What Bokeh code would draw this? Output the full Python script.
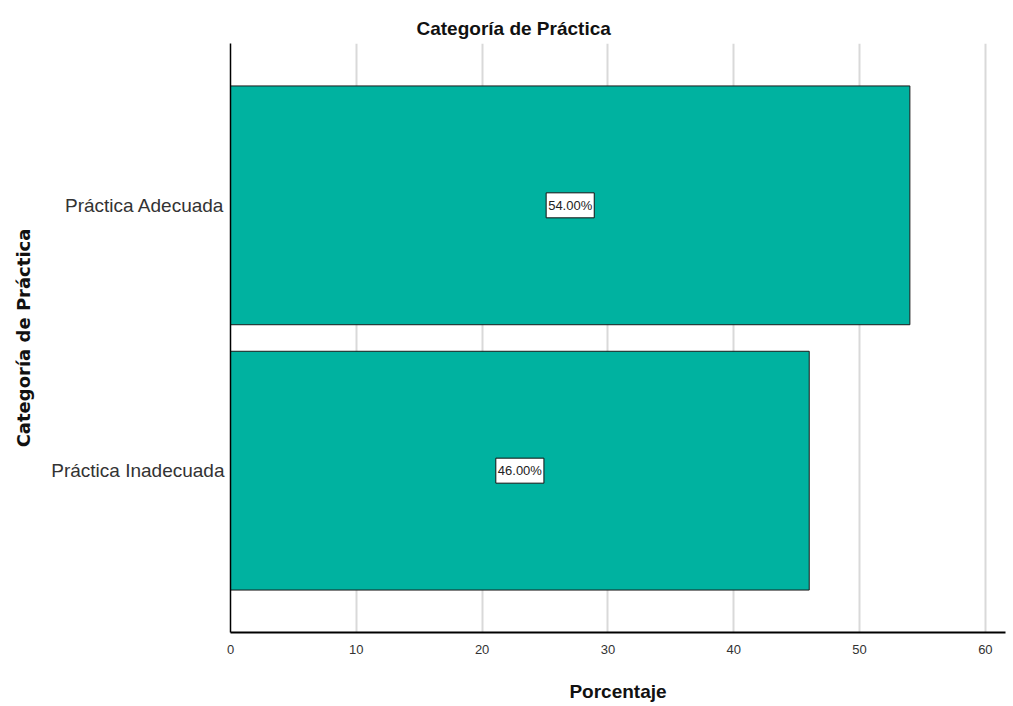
from bokeh.plotting import figure
from bokeh.models import ColumnDataSource, FixedTicker, Range1d, FactorRange
from bokeh.core.properties import value
from bokeh.embed import file_html
from bokeh.resources import INLINE

# ---- data ----
categories = ["Práctica Adecuada", "Práctica Inadecuada"]
percent = [54.0, 46.0]
labels = ["54.00%", "46.00%"]
x_ticks = [0, 10, 20, 30, 40, 50, 60]

title_text = "Categoría de Práctica"
x_title = "Porcentaje"
y_title = "Categoría de Práctica"

SANS = "Liberation Sans"
WIDE = "DejaVu Sans"

src = ColumnDataSource(dict(
    cat=categories,
    pct=percent,
    mid=[v / 2 for v in percent],
    lbl=labels,
))

p = figure(
    width=1008, height=704,
    y_range=FactorRange(factors=list(reversed(categories)), range_padding=0.11),
    x_range=Range1d(0, 61.6),
    output_backend="svg", toolbar_location=None,
    min_border_left=230, min_border_right=3, min_border_top=43, min_border_bottom=72,
)
p.outline_line_color = None
p.background_fill_color = "white"

p.title.text = title_text
p.title.align = "left"
p.title.offset = 186
p.title.text_font = SANS
p.title.text_font_style = "bold"
p.title.text_font_size = "19px"
p.title.text_color = "#111111"

p.hbar(y="cat", left=0, right="pct", height=0.9, source=src,
       fill_color="#00B2A0", line_color="#1a1a1a", line_width=1)

p.text(x="mid", y="cat", text="lbl", source=src,
       text_align="center", text_baseline="middle",
       text_font=value(SANS), text_font_size="13px", text_color="#222222",
       background_fill_color="white", border_line_color="#111111",
       border_line_width=1, padding=dict(left=2, right=2, top=5, bottom=5))

# axes
p.xaxis.ticker = FixedTicker(ticks=x_ticks)
p.xaxis.axis_line_color = "black"
p.xaxis.axis_line_width = 2
p.xaxis.major_tick_line_color = None
p.xaxis.minor_tick_line_color = None
p.xaxis.major_tick_out = 0
p.xaxis.minor_tick_out = 0
p.xaxis.major_label_text_font = SANS
p.xaxis.major_label_text_font_size = "13px"
p.xaxis.major_label_text_color = "#333333"
p.xaxis.major_label_standoff = 12
p.xaxis.axis_label = x_title
p.xaxis.axis_label_text_font = SANS
p.xaxis.axis_label_text_font_style = "bold"
p.xaxis.axis_label_text_font_size = "19px"
p.xaxis.axis_label_text_color = "#111111"
p.xaxis.axis_label_standoff = 24

p.yaxis.axis_line_color = "black"
p.yaxis.axis_line_width = 1.5
p.yaxis.major_tick_line_color = None
p.yaxis.minor_tick_line_color = None
p.yaxis.major_tick_out = 0
p.yaxis.minor_tick_out = 0
p.yaxis.major_label_text_font = SANS
p.yaxis.major_label_text_font_size = "19px"
p.yaxis.major_label_text_color = "#333333"
p.yaxis.major_label_standoff = 6
p.yaxis.axis_label = y_title
p.yaxis.axis_label_text_font = WIDE
p.yaxis.axis_label_text_font_style = "bold"
p.yaxis.axis_label_text_font_size = "18px"
p.yaxis.axis_label_text_color = "#111111"
p.yaxis.axis_label_standoff = 14

p.xgrid.grid_line_color = "#d9d9d9"
p.xgrid.grid_line_width = 2
p.ygrid.grid_line_color = None

open("out.html", "w").write(file_html(p, INLINE))
